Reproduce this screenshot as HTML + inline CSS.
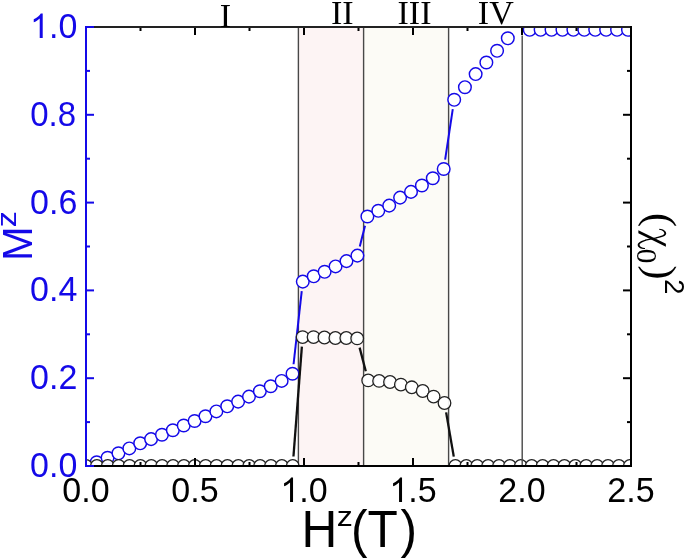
<!DOCTYPE html><html><head><meta charset="utf-8"><style>html,body{margin:0;padding:0;background:#fff;width:685px;height:558px;overflow:hidden}svg{display:block;will-change:transform}</style></head><body><svg width="685" height="558" viewBox="0 0 685 558"><defs><clipPath id="pc"><rect x="86" y="27" width="545" height="439"/></clipPath></defs><rect x="298.7" y="27" width="64.9" height="439" fill="#fdf4f4"/><rect x="363.6" y="27" width="85.2" height="439" fill="#fcfbf6"/><g stroke="#484848" stroke-width="1.4"><line x1="298.4" y1="27" x2="298.4" y2="466"/><line x1="363.6" y1="27" x2="363.6" y2="466"/><line x1="448.6" y1="27" x2="448.6" y2="466"/></g><g clip-path="url(#pc)"><g stroke="#1409e8" stroke-width="2.0" fill="none"><line x1="293.56" y1="364.26" x2="301.74" y2="291.04"/><line x1="359.75" y1="246.40" x2="365.05" y2="225.70"/><line x1="445.13" y1="159.61" x2="452.77" y2="109.19"/></g><g stroke="#1409e8" stroke-width="1.45" fill="#fff" fill-opacity="1"><circle cx="96.70" cy="462.30" r="6.3"/><circle cx="107.58" cy="457.80" r="6.3"/><circle cx="118.46" cy="453.30" r="6.3"/><circle cx="129.33" cy="448.40" r="6.3"/><circle cx="140.21" cy="443.30" r="6.3"/><circle cx="151.09" cy="439.10" r="6.3"/><circle cx="161.97" cy="434.70" r="6.3"/><circle cx="172.85" cy="430.20" r="6.3"/><circle cx="183.72" cy="425.50" r="6.3"/><circle cx="194.60" cy="421.00" r="6.3"/><circle cx="205.48" cy="416.20" r="6.3"/><circle cx="216.36" cy="411.40" r="6.3"/><circle cx="227.24" cy="406.30" r="6.3"/><circle cx="238.11" cy="401.60" r="6.3"/><circle cx="248.99" cy="396.60" r="6.3"/><circle cx="259.87" cy="391.20" r="6.3"/><circle cx="270.75" cy="386.20" r="6.3"/><circle cx="281.63" cy="380.90" r="6.3"/><circle cx="292.50" cy="373.70" r="6.3"/><circle cx="302.80" cy="281.60" r="6.3"/><circle cx="313.72" cy="276.30" r="6.3"/><circle cx="324.64" cy="271.80" r="6.3"/><circle cx="335.56" cy="266.40" r="6.3"/><circle cx="346.48" cy="261.10" r="6.3"/><circle cx="357.40" cy="255.60" r="6.3"/><circle cx="367.40" cy="216.50" r="6.3"/><circle cx="378.30" cy="210.80" r="6.3"/><circle cx="389.20" cy="205.60" r="6.3"/><circle cx="400.10" cy="197.60" r="6.3"/><circle cx="411.00" cy="191.90" r="6.3"/><circle cx="421.90" cy="185.50" r="6.3"/><circle cx="432.80" cy="178.20" r="6.3"/><circle cx="443.70" cy="169.00" r="6.3"/><circle cx="454.20" cy="99.80" r="6.3"/><circle cx="464.92" cy="87.20" r="6.3"/><circle cx="475.64" cy="74.10" r="6.3"/><circle cx="486.36" cy="62.50" r="6.3"/><circle cx="497.08" cy="50.80" r="6.3"/><circle cx="507.80" cy="38.30" r="6.3"/><circle cx="529.70" cy="29.80" r="6.3"/><circle cx="540.62" cy="29.80" r="6.3"/><circle cx="551.54" cy="29.80" r="6.3"/><circle cx="562.46" cy="29.80" r="6.3"/><circle cx="573.38" cy="29.80" r="6.3"/><circle cx="584.30" cy="29.80" r="6.3"/><circle cx="595.22" cy="29.80" r="6.3"/><circle cx="606.14" cy="29.80" r="6.3"/><circle cx="617.06" cy="29.80" r="6.3"/><circle cx="627.98" cy="29.80" r="6.3"/></g><g stroke="#111" stroke-width="2.3" fill="none"><line x1="293.45" y1="456.53" x2="301.87" y2="346.57"/><line x1="359.61" y1="347.59" x2="365.79" y2="371.21"/><line x1="446.12" y1="412.36" x2="453.78" y2="456.64"/></g><g stroke="#222222" stroke-width="1.3" fill="#fff" fill-opacity="0.92"><circle cx="86.00" cy="466.00" r="6.3"/><circle cx="96.88" cy="466.00" r="6.3"/><circle cx="107.76" cy="466.00" r="6.3"/><circle cx="118.64" cy="466.00" r="6.3"/><circle cx="129.52" cy="466.00" r="6.3"/><circle cx="140.40" cy="466.00" r="6.3"/><circle cx="151.28" cy="466.00" r="6.3"/><circle cx="162.16" cy="466.00" r="6.3"/><circle cx="173.04" cy="466.00" r="6.3"/><circle cx="183.92" cy="466.00" r="6.3"/><circle cx="194.80" cy="466.00" r="6.3"/><circle cx="205.68" cy="466.00" r="6.3"/><circle cx="216.56" cy="466.00" r="6.3"/><circle cx="227.44" cy="466.00" r="6.3"/><circle cx="238.32" cy="466.00" r="6.3"/><circle cx="249.20" cy="466.00" r="6.3"/><circle cx="260.08" cy="466.00" r="6.3"/><circle cx="270.96" cy="466.00" r="6.3"/><circle cx="281.84" cy="466.00" r="6.3"/><circle cx="292.72" cy="466.00" r="6.3"/><circle cx="302.60" cy="337.10" r="6.3"/><circle cx="313.52" cy="337.10" r="6.3"/><circle cx="324.44" cy="337.50" r="6.3"/><circle cx="335.36" cy="338.00" r="6.3"/><circle cx="346.28" cy="338.00" r="6.3"/><circle cx="357.20" cy="338.40" r="6.3"/><circle cx="368.20" cy="380.40" r="6.3"/><circle cx="379.10" cy="380.90" r="6.3"/><circle cx="390.00" cy="382.00" r="6.3"/><circle cx="400.90" cy="384.60" r="6.3"/><circle cx="411.80" cy="387.30" r="6.3"/><circle cx="422.70" cy="391.00" r="6.3"/><circle cx="433.60" cy="396.60" r="6.3"/><circle cx="444.50" cy="403.00" r="6.3"/><circle cx="455.40" cy="466.00" r="6.3"/><circle cx="466.30" cy="466.00" r="6.3"/><circle cx="477.20" cy="466.00" r="6.3"/><circle cx="488.10" cy="466.00" r="6.3"/><circle cx="499.00" cy="466.00" r="6.3"/><circle cx="509.90" cy="466.00" r="6.3"/><circle cx="520.80" cy="466.00" r="6.3"/><circle cx="531.70" cy="466.00" r="6.3"/><circle cx="542.60" cy="466.00" r="6.3"/><circle cx="553.50" cy="466.00" r="6.3"/><circle cx="564.40" cy="466.00" r="6.3"/><circle cx="575.30" cy="466.00" r="6.3"/><circle cx="586.20" cy="466.00" r="6.3"/><circle cx="597.10" cy="466.00" r="6.3"/><circle cx="608.00" cy="466.00" r="6.3"/><circle cx="618.90" cy="466.00" r="6.3"/><circle cx="629.80" cy="466.00" r="6.3"/></g></g><g stroke="#000" stroke-width="2"><line x1="86.00" y1="466" x2="86.00" y2="458"/><line x1="86.00" y1="27" x2="86.00" y2="35"/><line x1="140.50" y1="466" x2="140.50" y2="462"/><line x1="140.50" y1="27" x2="140.50" y2="31"/><line x1="195.00" y1="466" x2="195.00" y2="458"/><line x1="195.00" y1="27" x2="195.00" y2="35"/><line x1="249.50" y1="466" x2="249.50" y2="462"/><line x1="249.50" y1="27" x2="249.50" y2="31"/><line x1="304.00" y1="466" x2="304.00" y2="458"/><line x1="304.00" y1="27" x2="304.00" y2="35"/><line x1="358.50" y1="466" x2="358.50" y2="462"/><line x1="358.50" y1="27" x2="358.50" y2="31"/><line x1="413.00" y1="466" x2="413.00" y2="458"/><line x1="413.00" y1="27" x2="413.00" y2="35"/><line x1="467.50" y1="466" x2="467.50" y2="462"/><line x1="467.50" y1="27" x2="467.50" y2="31"/><line x1="522.00" y1="27" x2="522.00" y2="35"/><line x1="576.50" y1="466" x2="576.50" y2="462"/><line x1="576.50" y1="27" x2="576.50" y2="31"/><line x1="631.00" y1="466" x2="631.00" y2="458"/><line x1="631.00" y1="27" x2="631.00" y2="35"/></g><g stroke="#000" stroke-width="2"><line x1="631" y1="466.00" x2="623" y2="466.00"/><line x1="631" y1="422.10" x2="627" y2="422.10"/><line x1="631" y1="378.20" x2="623" y2="378.20"/><line x1="631" y1="334.30" x2="627" y2="334.30"/><line x1="631" y1="290.40" x2="623" y2="290.40"/><line x1="631" y1="246.50" x2="627" y2="246.50"/><line x1="631" y1="202.60" x2="623" y2="202.60"/><line x1="631" y1="158.70" x2="627" y2="158.70"/><line x1="631" y1="114.80" x2="623" y2="114.80"/><line x1="631" y1="70.90" x2="627" y2="70.90"/><line x1="631" y1="27.00" x2="623" y2="27.00"/></g><line x1="85" y1="466" x2="632" y2="466" stroke="#000" stroke-width="2"/><line x1="85" y1="27" x2="632" y2="27" stroke="#222" stroke-width="2"/><line x1="631" y1="26" x2="631" y2="467" stroke="#000" stroke-width="2"/><g stroke="#1409e8" stroke-width="2"><line x1="86" y1="466.00" x2="94" y2="466.00"/><line x1="86" y1="422.10" x2="90" y2="422.10"/><line x1="86" y1="378.20" x2="94" y2="378.20"/><line x1="86" y1="334.30" x2="90" y2="334.30"/><line x1="86" y1="290.40" x2="94" y2="290.40"/><line x1="86" y1="246.50" x2="90" y2="246.50"/><line x1="86" y1="202.60" x2="94" y2="202.60"/><line x1="86" y1="158.70" x2="90" y2="158.70"/><line x1="86" y1="114.80" x2="94" y2="114.80"/><line x1="86" y1="70.90" x2="90" y2="70.90"/><line x1="86" y1="27.00" x2="94" y2="27.00"/><line x1="86" y1="26" x2="86" y2="467"/></g><line x1="522.2" y1="35.5" x2="522.2" y2="465" stroke="#484848" stroke-width="1.4"/><g font-family="Liberation Sans, sans-serif" font-size="34" fill="#1409e8"><text transform="translate(77.30,476.90) scale(1,1.045)" text-anchor="end">0.0</text><text transform="translate(77.30,389.10) scale(1,1.045)" text-anchor="end">0.2</text><text transform="translate(77.30,301.30) scale(1,1.045)" text-anchor="end">0.4</text><text transform="translate(77.30,213.50) scale(1,1.045)" text-anchor="end">0.6</text><text transform="translate(76.10,125.70) scale(0.97,1.045)" text-anchor="end">0.8</text><path transform="translate(30.04,37.90) scale(0.016602,-0.017349)" d="M763 0L583 0L583 1115Q518 1053 412 991Q307 929 223 898L223 1075Q374 1140 487 1235Q600 1330 647 1410L763 1410Z" fill="#1409e8"/><text transform="translate(48.94,37.90) scale(1,1.045)" text-anchor="start">.0</text></g><g font-family="Liberation Sans, sans-serif" font-size="34" fill="#000"><text transform="translate(86.00,501.90) scale(1,1.045)" text-anchor="middle">0.0</text><text transform="translate(195.00,501.90) scale(1,1.045)" text-anchor="middle">0.5</text><path transform="translate(280.37,501.90) scale(0.016602,-0.017349)" d="M763 0L583 0L583 1115Q518 1053 412 991Q307 929 223 898L223 1075Q374 1140 487 1235Q600 1330 647 1410L763 1410Z" fill="#000"/><text transform="translate(299.28,501.90) scale(1,1.045)" text-anchor="start">.0</text><path transform="translate(389.37,501.90) scale(0.016602,-0.017349)" d="M763 0L583 0L583 1115Q518 1053 412 991Q307 929 223 898L223 1075Q374 1140 487 1235Q600 1330 647 1410L763 1410Z" fill="#000"/><text transform="translate(408.28,501.90) scale(1,1.045)" text-anchor="start">.5</text><text transform="translate(522.00,501.90) scale(1,1.045)" text-anchor="middle">2.0</text><text transform="translate(631.00,501.90) scale(1,1.045)" text-anchor="middle">2.5</text></g><g font-family="Liberation Serif, serif" font-size="34" fill="#000" text-anchor="middle"><text x="225.4" y="27.3">I</text><text x="342.3" y="24.3">II</text><text x="414.5" y="23.8">III</text><text x="495.8" y="23.8">IV</text></g><g font-family="Liberation Sans, sans-serif" fill="#000"><text transform="translate(301.6,546.8) scale(1,1.035)" font-size="49.6">H</text><text transform="translate(336.7,526.3) scale(1.17,1)" font-size="27.5">z</text><text transform="translate(351.0,546.8) scale(1,1.035)" font-size="49.6">(T<tspan dx="2.6">)</tspan></text></g><g font-family="Liberation Sans, sans-serif" fill="#1409e8"><text transform="translate(32.4,261) rotate(-90) scale(1,1.035)" font-size="41.5">M</text><text transform="translate(15.9,227.3) rotate(-90) scale(1.17,1)" font-size="27.5">z</text></g><text transform="translate(647,213) rotate(90)" font-family="Liberation Serif, serif" font-size="42" fill="#000">(<tspan font-size="30" dy="10" dx="21.5">0</tspan><tspan dy="-10" dx="2.1">)</tspan><tspan font-family="Liberation Sans, sans-serif" font-size="27" dy="-18" dx="-0.4">2</tspan></text><polygon points="638.4,230.2 638.4,233.3 665.9,246.7 665.9,243.8" fill="#000"/><path d="M659.3 228.8C663.5 228.9 666.6 231.5 666.2 233.8C665.8 236 662.5 237.3 656 238.6L656 237.3C661.5 236 664 235 664.3 233.6C664.5 231.8 662.5 230 659.3 229.9ZM646 239.5C641.5 240.8 637.6 242.4 637.7 245C637.8 247.6 641 249.1 645 249L645 247.9C642 247.9 639.7 246.8 639.6 245C639.6 243.3 642.5 242 646 240.8Z" fill="#000"/><path d="M656.5 237.95L645.5 240.15" stroke="#000" stroke-width="1.25" fill="none"/></svg></body></html>
